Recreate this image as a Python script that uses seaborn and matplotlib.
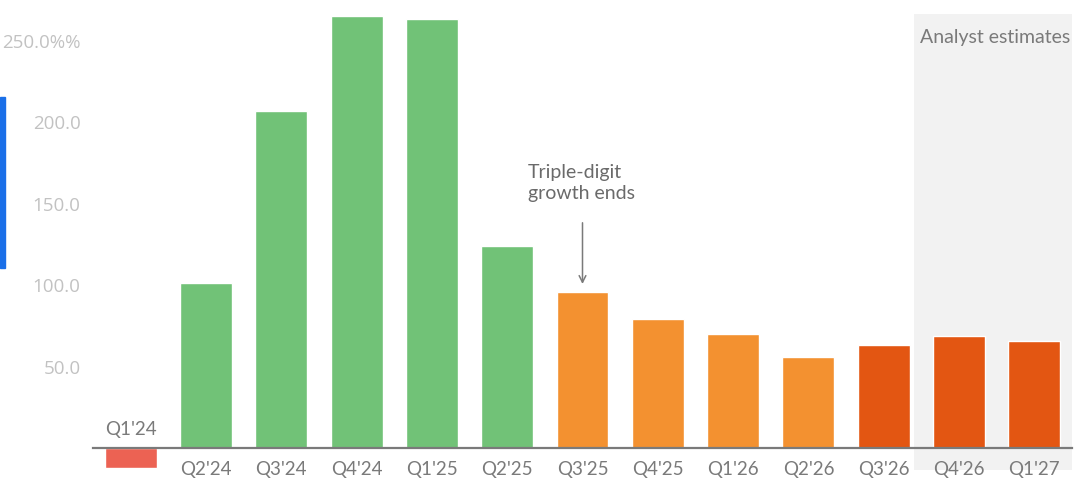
import matplotlib
matplotlib.use("Agg")
import matplotlib.pyplot as plt
import matplotlib.patches as mpatches
import seaborn as sns

# Quarterly growth, %
quarters = ["Q1'24", "Q2'24", "Q3'24", "Q4'24", "Q1'25", "Q2'25", "Q3'25",
            "Q4'25", "Q1'26", "Q2'26", "Q3'26", "Q4'26", "Q1'27"]
growth = [-12, 101.5, 207, 265.5, 263.5, 124, 95.5, 79, 70, 56, 63.5, 69, 65.5]
bar_colors = ["#EC6253"] + ["#71C277"] * 5 + ["#F39130"] * 4 + ["#E35612"] * 3

y_ticks = [50, 100, 150, 200, 250]
y_tick_labels = ["50.0", "100.0", "150.0", "200.0", "250.0%%"]

sns.set_theme(style="white")
plt.rcParams["font.family"] = ["Lato", "DejaVu Sans"]

fig = plt.figure(figsize=(10.8, 4.99), dpi=100)
ax = fig.add_axes([93 / 1080, 1 - 470 / 499, (1072 - 93) / 1080, (470 - 14) / 499])

# estimates shading
ax.axvspan(10.4, 12.5, color="#F2F2F2", zorder=0, lw=0)

sns.barplot(x=quarters, y=growth, hue=quarters, palette=bar_colors,
            legend=False, width=0.69, saturation=1, ax=ax, zorder=2)

ax.set_xlim(-0.5, 12.5)
ax.set_ylim(-13.5, 266.5)

for s in ["top", "right", "left"]:
    ax.spines[s].set_visible(False)
ax.spines["bottom"].set_position(("data", 0))
ax.spines["bottom"].set_color("#7A7A7A")
ax.spines["bottom"].set_linewidth(1.6)
ax.spines["bottom"].set_zorder(3)

ax.set_xticks(range(len(quarters)))
ax.set_xticklabels([""] + quarters[1:])
ax.tick_params(axis="x", length=0, pad=9, labelsize=13.5, labelcolor="#7A7A7A")
ax.set_yticks(y_ticks)
ax.set_yticklabels(y_tick_labels, family=["Open Sans", "DejaVu Sans"])
ax.tick_params(axis="y", length=0, pad=9, labelsize=13.5, labelcolor="#C2C2C2")
ax.set_xlabel("")
ax.set_ylabel("")

# negative bar's label sits above the axis
ax.text(0, 11.5, quarters[0], ha="center", va="center", fontsize=13.5, color="#7A7A7A")

ax.text(12.48, 252, "Analyst estimates", ha="right", va="center",
        fontsize=14, color="#7A7A7A")

ax.annotate("", xy=(6, 99), xytext=(6, 140),
            arrowprops=dict(arrowstyle="->", color="#7A7A7A", lw=1.1))
ax.text(5.27, 151, "Triple-digit\ngrowth ends", ha="left", va="bottom",
        fontsize=14, color="#6A6A6A", linespacing=1.3)

# blue strip at left edge
fig.patches.append(mpatches.Rectangle((0, 1 - 268 / 499), 5 / 1080, 171 / 499,
                                      transform=fig.transFigure, color="#1A6FE8"))

fig.savefig("out.png", dpi=100)
